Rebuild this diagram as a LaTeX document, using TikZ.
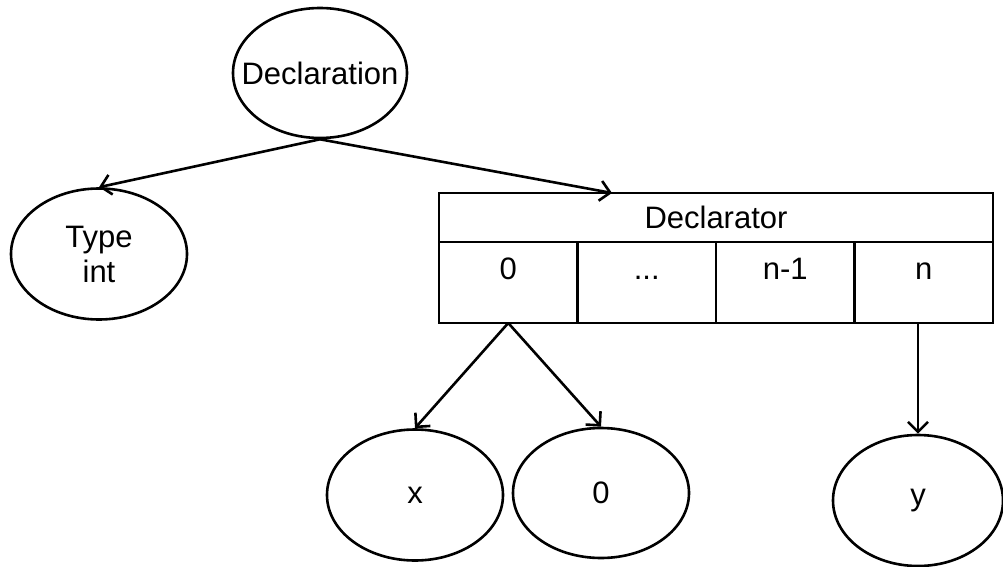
\documentclass[tikz,border=0pt]{standalone}
\usepackage{fontspec}
\setmainfont{Liberation Sans}
\usetikzlibrary{shapes.geometric,arrows.meta,positioning}
\tikzset{every node/.style={font=\fontsize{31}{35}\selectfont, align=center},
    ent/.style={draw, ellipse, line width=2.6pt, inner sep=0pt,
        minimum width=176pt, minimum height=131pt},
    hdr/.style={draw, line width=2.8pt, outer sep=0pt,
        minimum width=554pt, minimum height=49pt},
    cell/.style={draw, line width=2.8pt, outer sep=0pt, inner ysep=7pt,
        minimum width=138.5pt, text height=30pt, text depth=37pt},
    arr/.style={line width=2.6pt, -{Straight Barb[length=10pt,width=20pt]}},
    }
\begin{document}
\begin{tikzpicture}[x=1pt,y=-1pt]
\useasboundingbox (0,0) rectangle (1003,567);
\node[ent, minimum width=174pt, minimum height=130pt] (decl) at (320,73) {\makebox[0pt]{Declaration}};
\node[ent] (type) at (99,254) {Type\\int};
% the declarator box: header and four cells
\node[hdr] (dtor) at (716,217.5) {Declarator};
\node[cell, anchor=north west] (c0) at (dtor.south west) {0};
\node[cell, right=0pt of c0] (cdots) {...};
\node[cell, right=0pt of cdots] (cn1) {n-1};
\node[cell, right=0pt of cn1] (cn) {n};
\coordinate (dtin) at (612,193);
% leaves
\node[ent] (x) at (415,495) {x};
\node[ent, minimum height=130pt] (zero) at (601,493) {0};
\node[ent, minimum width=170pt] (y) at (918,500.5) {y};
\draw[arr] (decl.south) -- (type.north);
\draw[arr] (decl.south) -- (dtin);
\draw[arr] (c0.south) -- (x.north);
\draw[arr] (c0.south) -- (zero.north);
\draw[arr] (cn.south -| y.north) -- (y.north);
\end{tikzpicture}
\end{document}
